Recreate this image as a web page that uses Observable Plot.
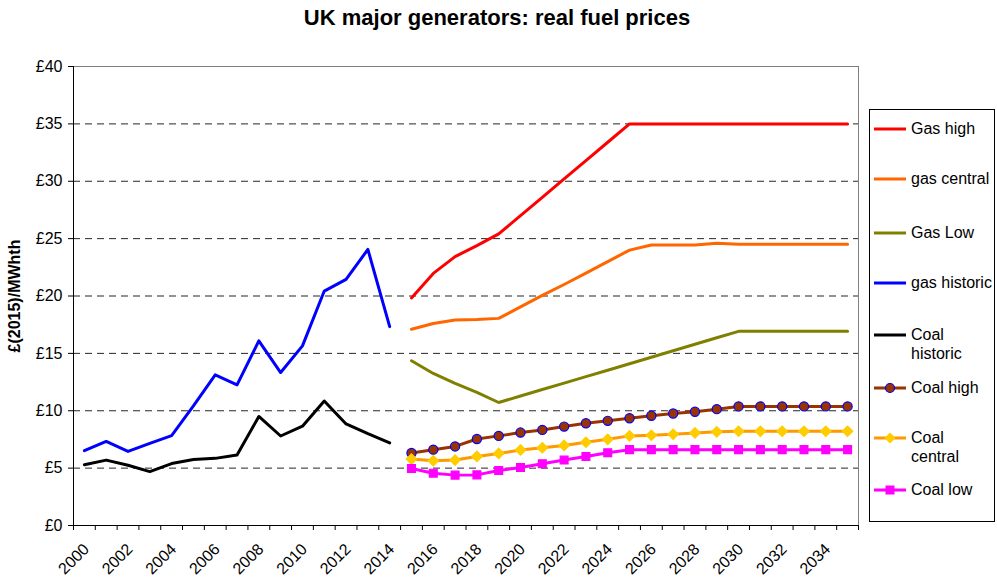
<!DOCTYPE html>
<html><head><meta charset="utf-8">
<script src="https://cdn.jsdelivr.net/npm/d3@7"></script>
<script src="https://cdn.jsdelivr.net/npm/@observablehq/plot@0.6"></script>
<style>
body{margin:0;background:#fff;font-family:"Liberation Sans",Arial,sans-serif;}
#wrap{position:relative;width:997px;height:586px;overflow:hidden;}
#legend{position:absolute;left:869px;top:109px;width:126px;height:413px;border:1px solid #000;box-sizing:border-box;background:#fff;}
.item{position:absolute;left:3px;font-size:16px;line-height:19px;color:#000;}
.item svg{position:absolute;left:0;}
.item span{position:absolute;left:38px;white-space:nowrap;}
</style></head><body>
<div id="wrap"><div id="chart"></div><div id="legend"></div></div>
<script>
const histYears = [2000,2001,2002,2003,2004,2005,2006,2007,2008,2009,2010,2011,2012,2013,2014];
const projYears = [2015,2016,2017,2018,2019,2020,2021,2022,2023,2024,2025,2026,2027,2028,2029,2030,2031,2032,2033,2034,2035];
const gasHistoric = [6.52,7.33,6.46,7.16,7.83,10.43,13.13,12.26,16.09,13.33,15.65,20.43,21.45,24.06,17.33];
const coalHistoric = [5.3,5.7,5.25,4.7,5.4,5.75,5.85,6.15,9.5,7.8,8.65,10.85,8.85,8.0,7.2];
const gasHigh = [19.83,21.97,23.43,24.39,25.41,27.0,28.6,30.2,31.8,33.4,35,35,35,35,35,35,35,35,35,35,35];
const gasCentral = [17.1,17.6,17.9,17.95,18.05,19.05,20.05,21.0,22.0,23.0,24.0,24.45,24.45,24.45,24.6,24.5,24.5,24.5,24.5,24.5,24.5];
const gasLow = [14.36,13.25,12.38,11.6,10.72,11.28,11.85,12.41,12.97,13.53,14.1,14.66,15.23,15.79,16.36,16.92,16.92,16.92,16.92,16.92,16.92];
const coalHigh = [6.32,6.61,6.89,7.54,7.81,8.1,8.33,8.62,8.91,9.12,9.35,9.56,9.76,9.91,10.14,10.38,10.38,10.38,10.38,10.38,10.38];
const coalCentral = [5.79,5.64,5.7,6.02,6.28,6.58,6.78,6.98,7.25,7.51,7.81,7.86,7.95,8.07,8.16,8.21,8.21,8.21,8.21,8.21,8.21];
const coalLow = [4.96,4.56,4.39,4.41,4.79,5.05,5.38,5.7,6.02,6.34,6.61,6.61,6.61,6.61,6.61,6.61,6.61,6.61,6.61,6.61,6.61];
const yTicks = [0,5,10,15,20,25,30,35,40];
const xLabelYears = [2000,2002,2004,2006,2008,2010,2012,2014,2016,2018,2020,2022,2024,2026,2028,2030,2032,2034];
const title = "UK major generators: real fuel prices";
const yTitle = "£(2015)/MWhth";

const series = [
  {name:"Gas high", years:projYears, values:gasHigh, color:"#ff0000"},
  {name:"gas central", years:projYears, values:gasCentral, color:"#ff6600"},
  {name:"Gas Low", years:projYears, values:gasLow, color:"#808000"},
  {name:"gas historic", years:histYears, values:gasHistoric, color:"#0000ff"},
  {name:"Coal historic", years:histYears, values:coalHistoric, color:"#000000"},
  {name:"Coal high", years:projYears, values:coalHigh, color:"#993300", marker:"circle", mfill:"#993300", mstroke:"#0000ff"},
  {name:"Coal central", years:projYears, values:coalCentral, color:"#ff9900", marker:"diamond2", mfill:"#ffcc00", mstroke:"#ffcc00"},
  {name:"Coal low", years:projYears, values:coalLow, color:"#ff00ff", marker:"square2", mfill:"#ff00ff", mstroke:"#ff00ff"}
];
const toRows = s => s.years.map((y,i)=>({year:y, value:s.values[i], name:s.name}));
const boundaries = d3.range(1999.5, 2036, 1);

const marks = [
  Plot.gridY(yTicks.filter(d=>d>0 && d<40), {stroke:"#000", strokeOpacity:0.85, strokeDasharray:"7,5"}),
  Plot.ruleY([40], {stroke:"#808080"}),
  Plot.ruleX([2035.5], {stroke:"#808080"}),
  Plot.axisY({ticks:yTicks, tickSize:5, tickPadding:6, tickFormat:d=>"£"+d, fontSize:16, label:null, stroke:"#000"}),
  Plot.axisX({ticks:boundaries, tickSize:5, tickFormat:()=>"", label:null}),
  Plot.axisX({ticks:xLabelYears, tickSize:0, tickPadding:21, tickRotate:-45, tickFormat:d=>String(d), fontSize:16, dx:2, label:null}),
  Plot.ruleX([1999.5], {stroke:"#000"}),
  Plot.ruleY([0], {stroke:"#000"}),
  Plot.text([yTitle], {x:()=>1999.5, y:()=>20, dx:-59, rotate:-90, textAnchor:"middle", fontWeight:"bold", fontSize:16}),
  Plot.text([title], {frameAnchor:"top", dx:31, dy:-57, fontWeight:"bold", fontSize:22})
];
for (const s of series) {
  marks.push(Plot.line(toRows(s), {x:"year", y:"value", stroke:s.color, strokeWidth:3}));
}
for (const s of series) {
  if (!s.marker) continue;
  const r = s.marker==="circle" ? 4.6 : (s.marker==="square2" ? 5 : 4.7);
  marks.push(Plot.dot(toRows(s), {x:"year", y:"value", symbol:s.marker, r, fill:s.mfill, stroke:s.mstroke, strokeWidth:1.2}));
}

const chart = Plot.plot({
  width:997, height:586,
  marginLeft:73, marginRight:139, marginTop:66, marginBottom:61,
  style:{fontFamily:"'Liberation Sans', Arial, sans-serif", fontSize:"15px", color:"#000", background:"#fff"},
  x:{type:"linear", domain:[1999.5, 2035.5]},
  y:{domain:[0,40]},
  marks
});
document.getElementById("chart").appendChild(chart);

// legend
const legendPos = [
  {t:9, lines:1}, {t:59, lines:1}, {t:113, lines:1}, {t:163, lines:1},
  {t:215, lines:2}, {t:268, lines:1}, {t:318, lines:2}, {t:370, lines:1}
];
const lg = document.getElementById("legend");
series.forEach((s,i)=>{
  const p = legendPos[i];
  const div = document.createElement("div");
  div.className = "item";
  div.style.top = p.t + "px";
  let sym = "";
  if (s.marker==="circle") sym = `<circle cx="17" cy="10" r="4.5" fill="${s.mfill}" stroke="${s.mstroke}" stroke-width="1.2"/>`;
  if (s.marker==="diamond2") sym = `<path d="M17,4.5L22.5,10L17,15.5L11.5,10Z" fill="${s.mfill}"/>`;
  if (s.marker==="square2") sym = `<rect x="12.5" y="5.5" width="9" height="9" fill="${s.mfill}"/>`;
  const label = s.name==="Coal historic" ? "Coal<br>historic" : s.name==="Coal central" ? "Coal<br>central" : s.name;
  div.innerHTML = `<svg width="36" height="20"><line x1="1" y1="10" x2="33" y2="10" stroke="${s.color}" stroke-width="3"/>${sym}</svg><span>${label}</span>`;
  lg.appendChild(div);
});
</script>
</body></html>
